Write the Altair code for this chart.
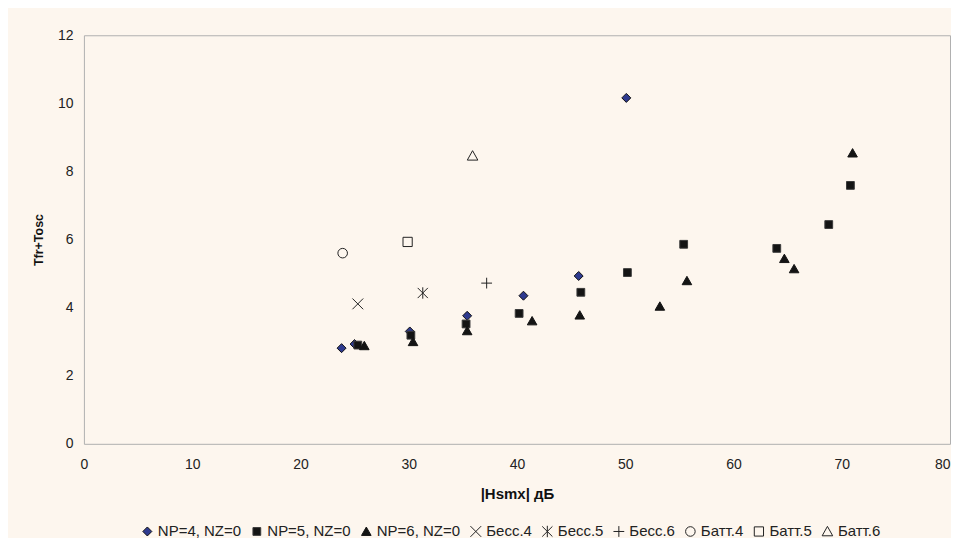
import altair as alt
import pandas as pd

series_names = ["NP=4, NZ=0", "NP=5, NZ=0", "NP=6, NZ=0",
                "Бесс.4", "Бесс.5", "Бесс.6",
                "Батт.4", "Батт.5", "Батт.6"]

np4_x = [23.8, 25.0, 30.1, 35.4, 40.6, 45.7, 50.1]
np4_y = [2.81, 2.93, 3.30, 3.76, 4.35, 4.93, 10.16]

np5_x = [25.3, 30.2, 35.3, 40.2, 45.9, 50.2, 55.4, 64.0, 68.8, 70.8]
np5_y = [2.90, 3.19, 3.52, 3.83, 4.45, 5.03, 5.86, 5.74, 6.44, 7.59]

np6_x = [25.9, 30.4, 35.4, 41.4, 45.8, 53.2, 55.7, 64.7, 65.6, 71.0]
np6_y = [2.88, 3.00, 3.32, 3.61, 3.78, 4.04, 4.79, 5.44, 5.14, 8.54]

bess4_x, bess4_y = [25.3], [4.11]
bess5_x, bess5_y = [31.3], [4.43]
bess6_x, bess6_y = [37.2], [4.72]
batt4_x, batt4_y = [23.9], [5.60]
batt5_x, batt5_y = [29.9], [5.93]
batt6_x, batt6_y = [35.9], [8.46]

groups = [
    (series_names[0], np4_x, np4_y),
    (series_names[1], np5_x, np5_y),
    (series_names[2], np6_x, np6_y),
    (series_names[3], bess4_x, bess4_y),
    (series_names[4], bess5_x, bess5_y),
    (series_names[5], bess6_x, bess6_y),
    (series_names[6], batt4_x, batt4_y),
    (series_names[7], batt5_x, batt5_y),
    (series_names[8], batt6_x, batt6_y),
]

rows = []
for name, xs, ys in groups:
    for xv, yv in zip(xs, ys):
        rows.append({"series": name, "x": xv, "y": yv, "order": series_names.index(name)})
df = pd.DataFrame(rows)

shapes = [
    "M0,-0.75L0.75,0L0,0.75L-0.75,0Z",
    "M-0.65,-0.65L0.65,-0.65L0.65,0.65L-0.65,0.65Z",
    "M0,-0.74L0.8,0.66L-0.8,0.66Z",
    "M-0.9,-0.9L0.9,0.9M-0.9,0.9L0.9,-0.9",
    "M-0.85,-0.85L0.85,0.85M-0.85,0.85L0.85,-0.85M0,-0.95L0,0.95",
    "M-0.9,0L0.9,0M0,-0.9L0,0.9",
    "M-0.8,0A0.8,0.8,0,1,1,0.8,0A0.8,0.8,0,1,1,-0.8,0Z",
    "M-0.77,-0.77L0.77,-0.77L0.77,0.77L-0.77,0.77Z",
    "M0,-0.85L0.88,0.72L-0.88,0.72Z",
]
fills = ["#2e3a8f", "#141414", "#141414",
         "transparent", "transparent", "transparent",
         "transparent", "transparent", "transparent"]
strokes = ["#111111", "#3a3a3a", "#141414",
           "#222222", "#222222", "#222222",
           "#222222", "#222222", "#222222"]

BG = "#fdf6ee"
FONT = "Liberation Sans"

chart = alt.Chart(df).mark_point(size=144, strokeWidth=1, opacity=1, filled=False).encode(
    x=alt.X("x:Q", scale=alt.Scale(domain=[0, 80], nice=False),
            axis=alt.Axis(title="|Hsmx| дБ", values=list(range(0, 81, 10)),
                          grid=False, domain=False, ticks=False, labelFlush=False,
                          labelAlign=alt.ExprRef(expr="datum.value >= 80 ? 'right' : 'center'"),
                          labelPadding=14, labelFontSize=14, labelColor="#222",
                          labelFont=FONT, titleFont=FONT, titleFontSize=15,
                          titleFontWeight="bold", titleColor="#111",
                          titlePadding=15)),
    y=alt.Y("y:Q", scale=alt.Scale(domain=[0, 12], nice=False),
            axis=alt.Axis(title="Tfr+Tosc", values=list(range(0, 13, 2)),
                          grid=False, domain=False, ticks=False, labelFlush=False,
                          labelPadding=11, labelFontSize=14, labelColor="#222",
                          labelFont=FONT, titleFont=FONT, titleFontSize=12.5,
                          titleFontWeight="bold", titleColor="#111",
                          titlePadding=12)),
    shape=alt.Shape("series:N", scale=alt.Scale(domain=series_names, range=shapes),
                    legend=alt.Legend(title=None)),
    fill=alt.Fill("series:N", scale=alt.Scale(domain=series_names, range=fills),
                  legend=alt.Legend(title=None)),
    stroke=alt.Stroke("series:N", scale=alt.Scale(domain=series_names, range=strokes),
                      legend=alt.Legend(title=None)),
    order=alt.Order("order:Q"),
).properties(
    width=867, height=409,
    autosize=alt.AutoSizeParams(type="none"),
    padding={"left": 76, "top": 27, "right": 1, "bottom": 94},
    background=BG,
).configure_view(
    fill=BG, stroke="#b0b0b0", strokeWidth=1
).configure_legend(
    orient="none", legendX=56, legendY=489, direction="horizontal", columns=9,
    labelFont=FONT, labelFontSize=15, labelColor="#222", labelOffset=3,
    columnPadding=7.6, symbolSize=144, symbolStrokeWidth=1, padding=0,
)

chart.save("out.html", embed_options={"renderer": "svg", "actions": False})
